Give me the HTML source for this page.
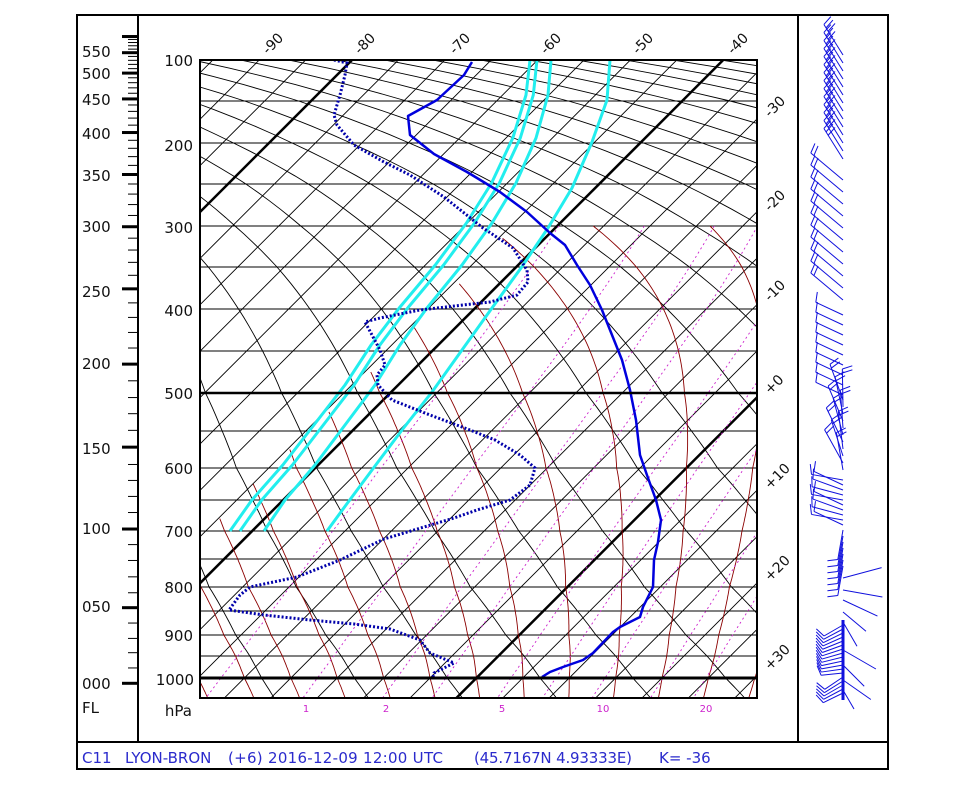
<!DOCTYPE html>
<html><head><meta charset="utf-8"><style>
html,body{margin:0;padding:0;background:#fff;}
svg{display:block;font-family:"DejaVu Sans","Liberation Sans",sans-serif;}
</style></head><body>
<svg id="s" width="964" height="785" viewBox="0 0 964 785" xmlns="http://www.w3.org/2000/svg">
<defs><clipPath id="cp"><rect x="200" y="60" width="557" height="638"/></clipPath></defs>
<rect x="0" y="0" width="964" height="785" fill="#fff"/>
<g id="grid" clip-path="url(#cp)"></g>
<g id="data" clip-path="url(#cp)"></g>
<g id="ax"></g>
<rect x="77" y="15" width="811" height="754" fill="none" stroke="#000" stroke-width="2"/>
<line x1="138" y1="15" x2="138" y2="742" stroke="#000" stroke-width="2"/>
<line x1="798" y1="15" x2="798" y2="742" stroke="#000" stroke-width="2"/>
<line x1="77" y1="742" x2="888" y2="742" stroke="#000" stroke-width="2"/>
<rect x="200" y="60" width="557" height="638" fill="none" stroke="#000" stroke-width="2"/>
<line x1="200" y1="678" x2="757" y2="678" stroke="#000" stroke-width="3"/>
<line x1="200" y1="393" x2="757" y2="393" stroke="#000" stroke-width="2.5"/>
<g font-size="15" fill="#111" text-anchor="end">
<text x="193" y="66">100</text><text x="193" y="151">200</text><text x="193" y="233">300</text>
<text x="193" y="316">400</text><text x="193" y="399">500</text><text x="193" y="474">600</text>
<text x="193" y="537">700</text><text x="193" y="593">800</text><text x="193" y="641">900</text>
<text x="194" y="685">1000</text><text x="192" y="716">hPa</text>
</g>
<g font-size="15" fill="#111">
<text x="82" y="57">550</text><text x="82" y="79">500</text><text x="82" y="105">450</text>
<text x="82" y="139">400</text><text x="82" y="181">350</text><text x="82" y="232">300</text>
<text x="82" y="297">250</text><text x="82" y="369">200</text><text x="82" y="454">150</text>
<text x="82" y="534">100</text><text x="82" y="612">050</text><text x="82" y="689">000</text>
<text x="82" y="713">FL</text>
</g>
<g font-size="14" fill="#111">
<text transform="translate(268,55) rotate(-45)">-90</text>
<text transform="translate(360,55) rotate(-45)">-80</text>
<text transform="translate(455,55) rotate(-45)">-70</text>
<text transform="translate(546,55) rotate(-45)">-60</text>
<text transform="translate(638,55) rotate(-45)">-50</text>
<text transform="translate(733,55) rotate(-45)">-40</text>
<text transform="translate(770,118) rotate(-45)">-30</text>
<text transform="translate(770,212) rotate(-45)">-20</text>
<text transform="translate(770,302) rotate(-45)">-10</text>
<text transform="translate(770,395) rotate(-45)">+0</text>
<text transform="translate(770,490) rotate(-45)">+10</text>
<text transform="translate(770,582) rotate(-45)">+20</text>
<text transform="translate(770,671) rotate(-45)">+30</text>
</g>
<g font-size="10" fill="#cc22cc" text-anchor="middle">
<text x="306" y="712">1</text><text x="386" y="712">2</text><text x="502" y="712">5</text>
<text x="603" y="712">10</text><text x="706" y="712">20</text>
</g>
<g font-size="15" fill="#2a2acc">
<text x="82" y="763">C11</text><text x="125" y="763">LYON-BRON</text>
<text x="228" y="763" textLength="215">(+6) 2016-12-09 12:00 UTC</text>
<text x="474" y="763" textLength="158">(45.7167N  4.93333E)</text>
<text x="659" y="763">K= -36</text>
</g>
<g id="wind" stroke="#1010dd" stroke-width="1" fill="none"></g>
</svg>
<script>
(function(){
var NS="http://www.w3.org/2000/svg";
var tab=[[100,60],[150,101],[200,143],[250,184],[300,226],[350,267],[400,309],[450,351],[500,393],[550,431],[600,468],[650,500],[700,531],[750,559],[800,587],[850,611],[900,635],[950,656],[1000,678],[1050,698]];
function Y(p){if(p<=100)return 60-(100-p)*0.83;
 for(var i=1;i<tab.length;i++){if(p<=tab[i][0]){var a=tab[i-1],b=tab[i];return a[1]+(b[1]-a[1])*(p-a[0])/(b[0]-a[0]);}}
 return 698+(p-1050)*0.4;}
function X(T,y){return 352+(T+80)*9.28-(y-60);}
function pl(g,pts,attrs){if(pts.length<2)return;var e=document.createElementNS(NS,"polyline");
 e.setAttribute("points",pts.map(function(q){return q[0].toFixed(1)+","+q[1].toFixed(1)}).join(" "));
 e.setAttribute("fill","none");for(var k in attrs)e.setAttribute(k,attrs[k]);g.appendChild(e);}
function ln(g,x1,y1,x2,y2,attrs){var e=document.createElementNS(NS,"line");
 e.setAttribute("x1",x1);e.setAttribute("y1",y1);e.setAttribute("x2",x2);e.setAttribute("y2",y2);
 for(var k in attrs)e.setAttribute(k,attrs[k]);g.appendChild(e);}
var G=document.getElementById("grid"),D=document.getElementById("data"),A=document.getElementById("ax"),W=document.getElementById("wind");
for(var p=150;p<=1050;p+=50){if(p==500||p==1000)continue;var y=Y(p);ln(G,200,y,757,y,{stroke:"#000","stroke-width":1.1});}
for(var T=-170;T<=60;T+=5){var thick=(T%40==0);
 ln(G,X(T,40),40,X(T,720),720,{stroke:"#000","stroke-width":thick?2.5:0.9});}
for(var th=150;th<=520;th+=10){var pts=[];for(var p=40;p<=1060;p+=10){var Tk=th*Math.pow(p/1000,0.286);var y=Y(p);pts.push([X(Tk-273.15,y),y]);}
 pl(G,pts,{stroke:"#000","stroke-width":0.9});}
function es(Tc){return 6.112*Math.exp(17.67*Tc/(Tc+243.5));}
for(var T0=-30;T0<=40;T0+=5){
 function integ(pEnd,dp){var pts=[],T=T0+273.15,p=1000;
  while((dp<0&&p>=pEnd)||(dp>0&&p<=pEnd)){if(T-273.15<-45)break;var y=Y(p);pts.push([X(T-273.15,y),y]);
   var e=es(T-273.15),rs=0.622*e/(p-e);
   var dT=(287*T+2.5e6*rs)/(p*(1004+2.5e6*2.5e6*rs*0.622/(287*T*T)));
   T+=dT*dp;p+=dp;}
  return pts;}
 var up=integ(300,-5),dn=integ(1050,5);
 pl(G,dn.reverse().concat(up),{stroke:"#8b0000","stroke-width":0.9});}
[0.4,1,2,3,5,7,10,15,20,30].forEach(function(w){var pts=[];for(var p=300;p<=1050;p+=10){var e=w*p/(622+w);var L=Math.log(e/6.112);var Td=243.5*L/(17.67-L);var y=Y(p);pts.push([X(Td,y),y]);}
 pl(G,pts,{stroke:"#cc22cc","stroke-width":0.9,"stroke-dasharray":"2,3"});});
var c4=[[610,60],[607,100],[592,142],[572,188],[548,228],[521,268],[492,308],[462,350],[432,392],[402,430],[372,470],[346,505],[327,531]];
var c3=[[551,60],[548,95],[536,138],[516,183],[492,223],[462,265],[427,308],[400,345],[375,385],[345,425],[315,465],[285,500],[264,531]];
function shift(c,top,bot){return c.map(function(q){var f=(q[1]-60)/471;return [q[0]+top+(bot-top)*f,q[1]];});}
[c4,c3,shift(c3,-14,-24),shift(c3,-21,-34)].forEach(function(c){pl(D,c,{stroke:"#22eeee","stroke-width":3,"stroke-linejoin":"round"});});
var td=[[334,60],[347,63],[345,75],[340,95],[334,115],[337,125],[354,145],[384,162],[410,175],[444,197],[483,228],[513,248],[527,270],[528,282],[517,295],[490,302],[463,305],[420,310],[380,318],[365,322],[372,335],[380,350],[385,365],[377,375],[378,385],[392,400],[430,415],[470,430],[495,440],[520,455],[535,468],[530,485],[510,500],[477,510],[454,518],[384,539],[340,560],[297,577],[250,587],[240,595],[229,610],[264,615],[310,620],[354,624],[390,629],[420,640],[430,653],[454,663],[434,673],[433,677]];
pl(D,td,{stroke:"#0000aa","stroke-width":3,"stroke-dasharray":"2,2"});
var tt=[[472,62],[464,75],[437,100],[408,116],[410,135],[434,154],[467,172],[477,178],[500,192],[527,212],[550,233],[565,245],[577,265],[590,285],[602,310],[612,335],[622,360],[630,390],[636,420],[640,455],[648,478],[656,500],[661,520],[658,542],[654,560],[653,587],[648,597],[643,607],[640,617],[620,627],[613,632],[593,653],[583,660],[563,667],[550,672],[542,677]];
pl(D,tt,{stroke:"#0000dd","stroke-width":2.5,"stroke-linejoin":"round"});
function pFL(fl){var h=fl*30.48;if(h<=11000)return 1013.25*Math.pow(1-2.25577e-5*h,5.2559);return 226.32*Math.exp(-(h-11000)/6341.6);}
for(var fl=0;fl<=600;fl+=10){var y=Y(pFL(fl));var maj=(fl%50==0);ln(A,maj?122:128,y,138,y,{stroke:"#000","stroke-width":maj?3:1});}
function barb(y,ang,len,nf){var a=ang*Math.PI/180;var bx=843,by=y;var ex=bx+Math.cos(a)*len,ey=by-Math.sin(a)*len;
 ln(W,bx,by,ex,ey,{});var ux=Math.cos(a),uy=-Math.sin(a);var px=-uy,py=ux;
 for(var i=0;i<nf;i++){var sx=ex-ux*i*4,sy=ey-uy*i*4;ln(W,sx,sy,sx+px*10+ux*3,sy+py*10+uy*3,{});}}
for(var y=55;y<=165;y+=8)barb(y,122,36,3);
for(var y=180;y<=300;y+=12)barb(y,140,42,2);
for(var y=315;y<=395;y+=10)barb(y,155,30,1);
for(var y=400;y<=470;y+=7)barb(y,120-((y*7)%30),38,2);
for(var y=480;y<=525;y+=5)barb(y,170-((y*3)%20),32,1);
for(var y=530;y<=570;y+=6)barb(y,250+((y*5)%30),30,1);
[[578,15,40],[590,-10,40],[600,-25,38],[612,-40,30],[622,-60,28]].forEach(function(b){barb(b[0],b[1],b[2],0);});
for(var y=625;y<=695;y+=4){barb(y,185+((y*7)%30),22,1);}
[[650,-30,38],[665,-45,30],[680,-35,34],[690,-60,22]].forEach(function(b){barb(b[0],b[1],b[2],0);});
ln(W,843,620,843,700,{"stroke-width":3});
})();
</script>
</body></html>
